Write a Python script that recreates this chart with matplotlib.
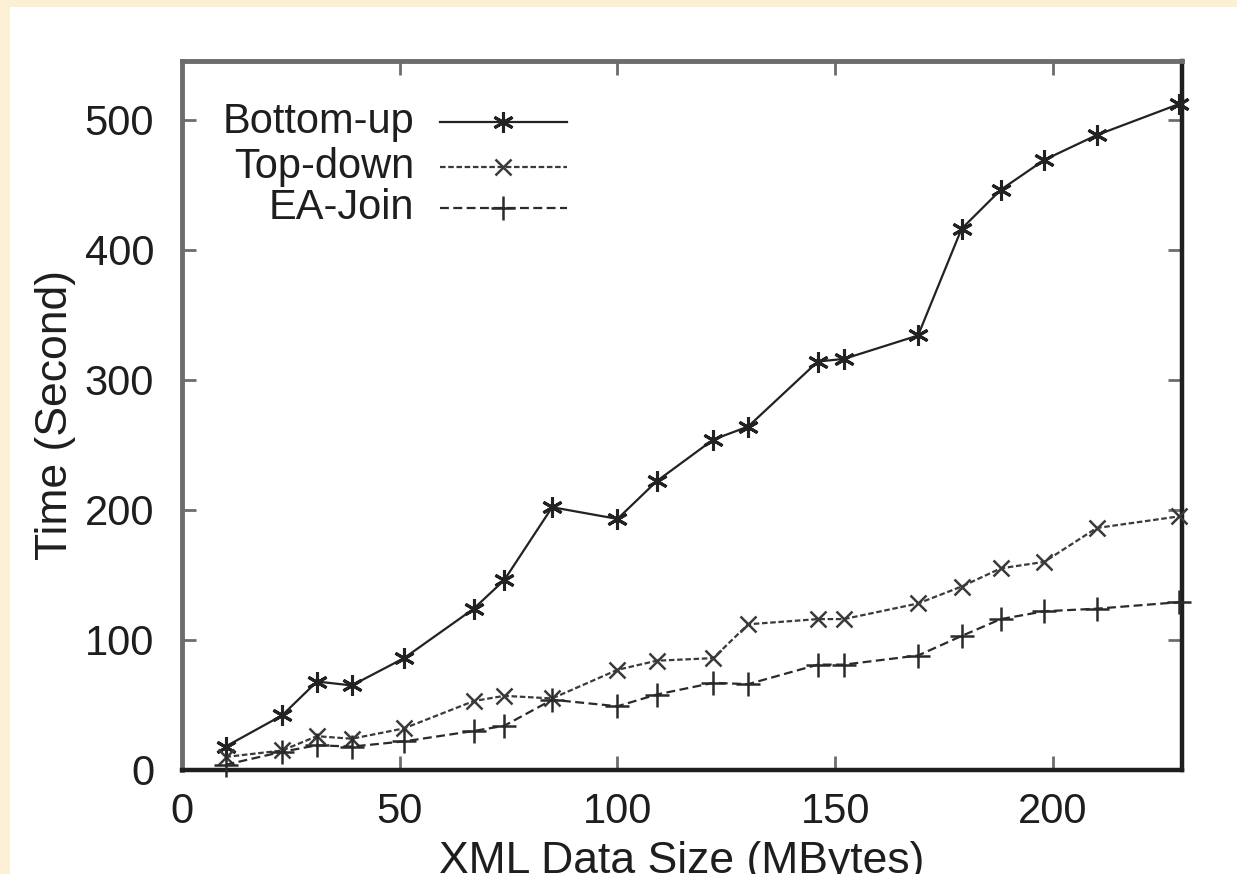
"""
plot.py - tiempo de ejecucion vs tamano de datos XML (Bottom-up / Top-down / EA-Join).
Estilo gnuplot: cuadro completo, ticks hacia adentro, leyenda con texto a la derecha.
"""

import matplotlib

matplotlib.use("Agg")
import matplotlib.pyplot as plt
from matplotlib.patches import Rectangle
from matplotlib.lines import Line2D

plt.rcParams["font.family"] = ["Liberation Sans", "DejaVu Sans"]

# ---- datos ---------------------------------------------------------------
sizes_mb = [10, 23, 31, 39, 51, 67, 74, 85, 100, 109,
            122, 130, 146, 152, 169, 179, 188, 198, 210, 229]
bottom_up = [18, 42, 68, 65, 86, 124, 146, 202, 193, 222,
             254, 264, 314, 316, 334, 416, 446, 469, 488, 512]
top_down = [10, 15, 26, 24, 32, 53, 57, 55, 77, 84,
            86, 112, 116, 116, 128, 141, 155, 160, 186, 195]
ea_join = [4, 14, 19, 18, 22, 30, 34, 54, 49, 58,
           67, 66, 81, 81, 88, 103, 116, 122, 124, 129]

x_ticks = [0, 50, 100, 150, 200]
y_ticks = [0, 100, 200, 300, 400, 500]

_CREAM = "#fbefd4"
_INK = "#1e1e1e"
_GREY = "#6c6c6c"

series = [
    ("Bottom-up", bottom_up, dict(color="#222222", linestyle="-", linewidth=1.6,
                                  marker=(6, 2, 0), markersize=15, markeredgewidth=2.2)),
    ("Top-down", top_down, dict(color="#3a3a3a", linestyle=(0, (2.5, 1.2)), linewidth=1.6,
                                marker="x", markersize=11, markeredgewidth=1.8)),
    ("EA-Join", ea_join, dict(color="#2a2a2a", linestyle=(0, (4, 2)), linewidth=1.6,
                              marker="+", markersize=17, markeredgewidth=1.8)),
]

fig = plt.figure(figsize=(12.37, 8.74), dpi=100, facecolor=_CREAM)
# zona blanca (el borde crema solo asoma arriba y a la izquierda)
fig.patches.append(Rectangle((10 / 1237, 0), 1.0, 1 - 7 / 874, transform=fig.transFigure,
                             facecolor="white", edgecolor="none", zorder=-10))

ax = fig.add_axes([0.1471, 0.119, 0.8084, 0.8112])
ax.set_facecolor("white")

for label, values, style in series:
    ax.plot(sizes_mb, values, clip_on=False, zorder=3, **style)

ax.set_xlim(0, 229.6)
ax.set_ylim(0, 545)
ax.set_xticks(x_ticks)
ax.set_yticks(y_ticks)

ax.tick_params(direction="in", length=10, width=2, colors=_GREY, labelcolor=_INK,
               labelsize=30, top=True, right=True)
ax.tick_params(axis="x", pad=16)
ax.tick_params(axis="y", pad=20)

for side in ("left", "top"):
    ax.spines[side].set_color(_GREY)
    ax.spines[side].set_linewidth(3.5)
for side in ("right", "bottom"):
    ax.spines[side].set_color(_INK)
    ax.spines[side].set_linewidth(3.2)

ax.set_ylabel("Time (Second)", fontsize=32, color=_INK)
ax.yaxis.set_label_coords(-0.106, 0.5)
ax.set_xlabel("XML Data Size (MBytes)", fontsize=32, color=_INK)
ax.xaxis.set_label_coords(0.5, -0.1)

# ---- leyenda estilo gnuplot: texto alineado a la derecha, muestra a la derecha
row_y = [0.914, 0.851, 0.793]
for (label, _, style), yy in zip(series, row_y):
    ax.text(0.232, yy, label, transform=ax.transAxes, ha="right", va="center",
            fontsize=30, color=_INK)
    ax.add_line(Line2D([0.258, 0.385], [yy, yy], transform=ax.transAxes,
                       **{k: v for k, v in style.items() if not k.startswith("marker")}))
    ax.add_line(Line2D([0.3215], [yy], transform=ax.transAxes, linestyle="none",
                       color=style["color"], marker=style["marker"],
                       markersize=style["markersize"],
                       markeredgewidth=style["markeredgewidth"]))

fig.savefig("out.png", dpi=100, facecolor=fig.get_facecolor())
